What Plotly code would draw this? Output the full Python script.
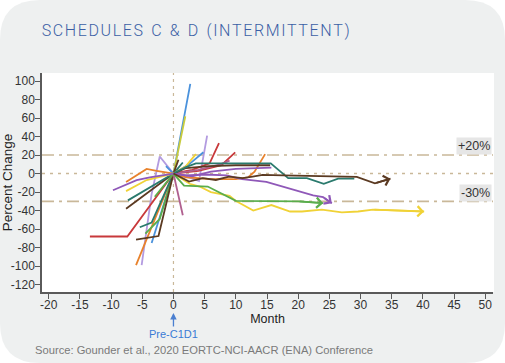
import plotly.graph_objects as go

# ---------------- data (month vs percent change, one list pair per patient) ----------------
red_a_month = [-13.4, -7.4, 0, 3, 5.8, 7.3]
red_a_pct = [-68, -68, 0, 4, 11, 33]
red_b_month = [0, 4, 7.7, 9.9]
red_b_pct = [0, 3, 9, 23]

brown_a_month = [-6.0, -2.4, 0, 0.8]
brown_a_pct = [-71.5, -67.5, 0, 15]
brown_b_month = [-7.6, 0, 2, 5.7, 10, 15.5]
brown_b_pct = [-38, 0, 6, 8, 9, 9]
brown_c_month = [0, 0.9, 2.5, 4.7, 6.8, 8.9, 11.1, 12.7, 14.3, 17.6, 29.4, 32.3, 34.8]
brown_c_pct = [0, -3.3, -8.7, -5, -6.9, -3.3, -5, -3.3, -1.5, -2, -3.5, -10.5, -5.5]

orange_a_month = [-7.6, -4.3, -2.7, 0, 2, 6, 10, 12, 13, 14.7]
orange_a_pct = [-9, 5, 3, 0, -4, -6, -6, -4, 2, 21]
orange_b_month = [-6.0, 0]
orange_b_pct = [-99, 0]

purple_a_month = [-9.7, -5.9, -3.8, 0, 2, 5, 8.5, 11, 14.9, 19.8, 22.4, 24, 25.4]
purple_a_pct = [-18, -7, -4, 0, -2, -1, -2, -6, -9, -18, -23.5, -25.5, -32]
purple_b_month = [0, 3, 6, 10, 15.7]
purple_b_pct = [0, -3, 2, 5, 6.5]

yellow_a_month = [-7.6, -4.3, 0, 2.6, 4.2, 6, 9, 10.1, 12.8, 15.7, 18.7, 20.6, 23.8, 27, 29.6, 32, 40.2]
yellow_a_pct = [-19, -7, 0, -11, -14, -20, -24, -30, -40, -34, -41, -41, -39, -42, -41, -39, -41]
yellow_b_month = [0, 2, 3.6]
yellow_b_pct = [0, 8, 21]
olive_month = [0, 1.9]
olive_pct = [0, 62]

green_a_month = [-3, 0, 1.7, 5.5, 10, 20, 24]
green_a_pct = [-25, 0, -13, -14, -29.5, -30, -32]
green_b_month = [-4.5, -2.2, 0]
green_b_pct = [-65, -49, 0]

teal_a_month = [-7.3, 0, 2, 3.6, 15.6, 18.4, 21.4, 24.1, 26.4, 29]
teal_a_pct = [-29, 0, 7, 11, 11, -5, -5, -11, -5.5, -5.5]
teal_b_month = [-5.4, -3.5, 0, 1.5]
teal_b_pct = [-58, -53, 0, 12]

blue_a_month = [-3.5, 0, 2.7]
blue_a_pct = [-75, 0, 97]
blue_b_month = [-1.2, 0, 2.5, 4.8]
blue_b_pct = [8, 0, 10, 23]

lavender_month = [-5.1, -3.5, -2.2, 0, 2, 4.1, 5.4]
lavender_pct = [-99, -22, 18.5, 0, -3, -8, 41]
mauve_a_month = [0, 1.5]
mauve_a_pct = [0, -45]
mauve_b_month = [0, 4, 7.5, 9]
mauve_b_pct = [0, 4, 10, 14]

ref_levels = [20, -30]
ref_labels = ["+20%", "-30%"]
x_ticks = list(range(-20, 51, 5))
y_ticks = list(range(-120, 101, 20))

# ---------------- styling ----------------
C = dict(red="#c8393b", brown="#5b3a22", orange="#e8822c", purple="#8f58b8",
         yellow="#f0d236", olive="#c9cc3c", green="#5aad4c", teal="#2a7a6d",
         blue="#4a92dc", lavender="#b39be0", mauve="#b0608f")
TAN = "#c9b899"
FONT = "Liberation Sans, Arial, sans-serif"

series = [
    (blue_a_month, blue_a_pct, C["blue"]),
    (olive_month, olive_pct, C["olive"]),
    (lavender_month, lavender_pct, C["lavender"]),
    (orange_b_month, orange_b_pct, C["orange"]),
    (green_b_month, green_b_pct, C["green"]),
    (teal_b_month, teal_b_pct, C["teal"]),
    (brown_a_month, brown_a_pct, C["brown"]),
    (red_a_month, red_a_pct, C["red"]),
    (red_b_month, red_b_pct, C["red"]),
    (blue_b_month, blue_b_pct, C["blue"]),
    (yellow_b_month, yellow_b_pct, C["yellow"]),
    (mauve_a_month, mauve_a_pct, C["mauve"]),
    (mauve_b_month, mauve_b_pct, C["mauve"]),
    (orange_a_month, orange_a_pct, C["orange"]),
    (purple_b_month, purple_b_pct, C["purple"]),
    (brown_b_month, brown_b_pct, C["brown"]),
    (teal_a_month, teal_a_pct, C["teal"]),
    (yellow_a_month, yellow_a_pct, C["yellow"]),
    (green_a_month, green_a_pct, C["green"]),
    (purple_a_month, purple_a_pct, C["purple"]),
    (brown_c_month, brown_c_pct, C["brown"]),
]
arrow_series = [
    (yellow_a_month, yellow_a_pct, C["yellow"]),
    (green_a_month, green_a_pct, C["green"]),
    (purple_a_month, purple_a_pct, C["purple"]),
    (brown_c_month, brown_c_pct, C["brown"]),
]

fig = go.Figure()
for m, p, col in series:
    fig.add_trace(go.Scatter(x=m, y=p, mode="lines", line=dict(color=col, width=1.8),
                             showlegend=False, hoverinfo="skip"))

# plot geometry (pixels)
W, H = 505, 363
L, R, T, B = 42, 12, 73, 71
pw, ph = W - L - R, H - T - B


def px(xp):
    return (xp - L) / pw


def py(yp):
    return (H - B - yp) / ph


# card background with rounded corners, then white plotting panel
x0, x1, y0, y1 = px(0), px(W), py(H), py(0)
rx, ry = 40 / pw, 40 / ph
card = (f"M{x0+rx},{y1} L{x1-rx},{y1} Q{x1},{y1} {x1},{y1-ry} L{x1},{y0+ry} "
        f"Q{x1},{y0} {x1-rx},{y0} L{x0+rx},{y0} Q{x0},{y0} {x0},{y0+ry} "
        f"L{x0},{y1-ry} Q{x0},{y1} {x0+rx},{y1} Z")
fig.add_shape(type="path", path=card, xref="paper", yref="paper", layer="below",
              fillcolor="#eef0f0", line=dict(width=0))
fig.add_shape(type="rect", xref="paper", yref="paper", x0=0, x1=px(494), y0=0, y1=1,
              layer="below", fillcolor="white", line=dict(width=0))

# reference lines
for lv in ref_levels:
    fig.add_shape(type="line", xref="paper", yref="y", x0=0, x1=1, y0=lv, y1=lv,
                  line=dict(color=TAN, width=1.6, dash="12px,5px,3px,5px"), layer="below")
fig.add_shape(type="line", xref="paper", yref="y", x0=0, x1=1, y0=0, y1=0,
              line=dict(color=TAN, width=1.6, dash="3px,5px"), layer="below")
fig.add_shape(type="line", xref="x", yref="paper", x0=0, x1=0, y0=0, y1=1,
              line=dict(color=TAN, width=1.2, dash="3px,4px"), layer="below")

for lv, lab, off in zip(ref_levels, ref_labels, [9.5, 9.5]):
    fig.add_annotation(xref="paper", yref="y", x=0.997, y=lv + off, text=lab, showarrow=False,
                       xanchor="right", yanchor="middle", bgcolor="#e6e6e6", borderpad=1,
                       font=dict(family=FONT, size=12.5, color="#333"))

# arrow heads on ongoing patients
for m, p, col in arrow_series:
    fig.add_annotation(x=m[-1], y=p[-1], ax=m[-2], ay=p[-2], xref="x", yref="y",
                       axref="x", ayref="y", showarrow=True, arrowhead=4, arrowsize=1.1,
                       arrowwidth=1.8, arrowcolor=col, text="")

# Title
title = "\u200aS\u200aC\u200aH\u200aE\u200aD\u200aU\u200aL\u200aE\u200aS\u2002C\u2002&\u2002D\u2002(\u200aI\u200aN\u200aT\u200aE\u200aR\u200aM\u200aI\u200aT\u200aT\u200aE\u200aN\u200aT\u200a)"
fig.add_annotation(xref="paper", yref="paper", x=px(38), y=py(31), text=title, showarrow=False,
                   xanchor="left", yanchor="middle",
                   font=dict(family="Roboto, sans-serif", size=16, weight=300, color="#3b5fa5"))

# Pre-C1D1 marker
fig.add_annotation(xref="x", yref="paper", x=0, y=py(313), ax=0, ay=21, text="Pre-C1D1",
                   showarrow=True, arrowhead=2, arrowsize=1, arrowwidth=1.3, arrowcolor="#4a7fd0",
                   font=dict(family=FONT, size=11, color="#3a7bd5"))

# Source
fig.add_annotation(xref="paper", yref="paper", x=px(33), y=py(350),
                   text="Source: Gounder et al., 2020 EORTC-NCI-AACR (ENA) Conference",
                   showarrow=False, xanchor="left", yanchor="middle",
                   font=dict(family=FONT, size=11.2, color="#7a7a7a"))

axis_common = dict(showgrid=False, zeroline=False, showline=True, linecolor="#5a5a5a", linewidth=1.5,
                   ticks="outside", ticklen=5, tickwidth=1.2, tickcolor="#5a5a5a",
                   tickfont=dict(family=FONT, size=12, color="#333"))
fig.update_xaxes(range=[-21.08, 51.24], tickvals=x_ticks, ticktext=[str(v) for v in x_ticks],
                 ticklabelstandoff=-4,
                 title=dict(text="Month", font=dict(family=FONT, size=12.5, color="#222"),
                            standoff=2), **axis_common)
fig.update_yaxes(range=[-128, 108.7], tickvals=y_ticks, ticktext=[str(v) for v in y_ticks],
                 ticklabelstandoff=-2,
                 title=dict(text="Percent Change", font=dict(family=FONT, size=13.5, color="#222"),
                            standoff=4), **axis_common)

fig.update_layout(width=W, height=H, margin=dict(l=L, r=R, t=T, b=B, autoexpand=False),
                  paper_bgcolor="white", plot_bgcolor="rgba(0,0,0,0)", showlegend=False)

fig.write_html("out.html", config={"displayModeBar": False},
               post_script="document.body.style.margin='0';document.body.style.overflow='hidden';")
